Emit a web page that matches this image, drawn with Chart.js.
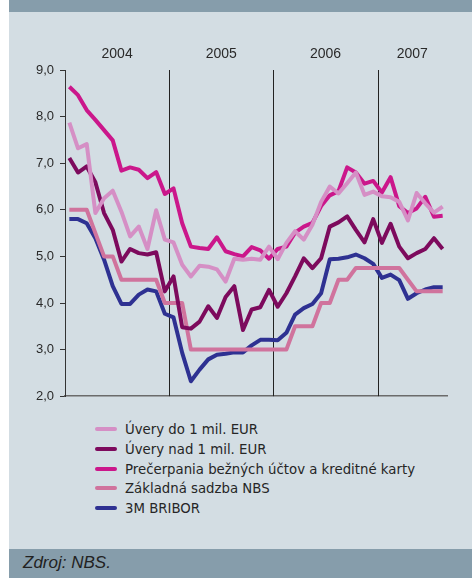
<!DOCTYPE html>
<html>
<head>
<meta charset="utf-8">
<script src="https://cdn.jsdelivr.net/npm/chart.js@4.4.1/dist/chart.umd.min.js"></script>
<style>
  body { margin: 0; width: 472px; height: 578px; background: #fff; font-family: "Liberation Sans", Arial, sans-serif; position: relative; overflow: hidden; }
  .bar { position: absolute; left: 9px; width: 463px; background: #869dab; }
  #head { top: 0; height: 12px; }
  #panel { position: absolute; left: 9px; top: 12px; width: 463px; height: 537px; background: #d3dde3; }
  #foot { top: 549px; height: 29px; }
  #foot span { position: absolute; left: 14px; top: 4px; font-style: italic; font-size: 17px; color: #222; }
  #wrap { position: absolute; left: 0; top: 0; width: 472px; height: 410px; }
  #legend { position: absolute; left: 95px; top: 420px; font-family: "DejaVu Sans", sans-serif; font-size: 13.3px; color: #262626; }
  #legend div { height: 19.8px; line-height: 19.8px; white-space: nowrap; }
  #legend i { display: inline-block; width: 22px; height: 4px; border-radius: 2px; vertical-align: middle; margin-right: 8px; position: relative; top: -1px; }
</style>
</head>
<body>
<div class="bar" id="head"></div>
<div id="panel"></div>
<div class="bar" id="foot"><span>Zdroj: NBS.</span></div>
<div id="wrap"><canvas id="chart" width="472" height="410"></canvas></div>
<div id="legend"></div>
<script>
// months Jan 2004 - Aug 2007
const years = ['2004', '2005', '2006', '2007'];
const monthsInYear = [12, 12, 12, 8];
const months = [];
years.forEach((y, k) => { for (let m = 1; m <= monthsInYear[k]; m++) months.push(m + '/' + y); });

const uveryDo = [7.87, 7.32, 7.41, 5.93, 6.25, 6.41, 5.96, 5.43, 5.64, 5.16, 5.99, 5.36,
                 5.30, 4.82, 4.57, 4.80, 4.78, 4.72, 4.46, 4.95, 4.93, 4.95, 4.93, 5.21,
                 4.94, 5.29, 5.54, 5.36, 5.68, 6.17, 6.50, 6.35, 6.57, 6.80, 6.32, 6.39,
                 6.29, 6.27, 6.17, 5.77, 6.36, 6.14, 5.94, 6.07];
const uveryNad = [7.11, 6.80, 6.93, 6.59, 5.93, 5.57, 4.89, 5.16, 5.07, 5.04, 5.09, 4.25,
                  4.57, 3.48, 3.45, 3.60, 3.93, 3.68, 4.13, 4.36, 3.42, 3.86, 3.91, 4.28,
                  3.92, 4.21, 4.57, 4.96, 4.75, 4.96, 5.64, 5.73, 5.86, 5.57, 5.30, 5.80,
                  5.29, 5.70, 5.21, 4.96, 5.07, 5.16, 5.39, 5.16];
const precerpania = [8.64, 8.46, 8.14, 7.93, 7.71, 7.49, 6.84, 6.91, 6.86, 6.68, 6.81, 6.34,
                     6.46, 5.71, 5.21, 5.18, 5.16, 5.41, 5.11, 5.05, 5.00, 5.20, 5.13, 4.95,
                     5.16, 5.21, 5.51, 5.64, 5.72, 6.08, 6.31, 6.40, 6.91, 6.80, 6.56, 6.62,
                     6.37, 6.70, 6.08, 5.93, 6.03, 6.28, 5.85, 5.87];
const zakladna = [6.0, 6.0, 6.0, 5.5, 5.0, 5.0, 4.5, 4.5, 4.5, 4.5, 4.5, 4.0,
                  4.0, 4.0, 3.0, 3.0, 3.0, 3.0, 3.0, 3.0, 3.0, 3.0, 3.0, 3.0,
                  3.0, 3.0, 3.5, 3.5, 3.5, 4.0, 4.0, 4.5, 4.5, 4.75, 4.75, 4.75,
                  4.75, 4.75, 4.75, 4.5, 4.25, 4.25, 4.25, 4.25];
const bribor = [5.80, 5.80, 5.71, 5.39, 4.93, 4.36, 3.98, 3.98, 4.18, 4.29, 4.25, 3.77,
                3.69, 2.93, 2.32, 2.57, 2.79, 2.89, 2.91, 2.94, 2.94, 3.09, 3.21, 3.21,
                3.20, 3.36, 3.75, 3.89, 3.98, 4.21, 4.94, 4.95, 4.98, 5.04, 4.96, 4.84,
                4.54, 4.61, 4.49, 4.09, 4.21, 4.29, 4.34, 4.34];

const yTicks = [2, 3, 4, 5, 6, 7, 8, 9];

const ds = (label, data, color) => ({ label, data, borderColor: color, backgroundColor: color, borderWidth: 4, pointRadius: 0, tension: 0, borderJoinStyle: 'round' });

// year separators + year labels above the plot
const yearsPlugin = {
  id: 'years',
  beforeDatasetsDraw(chart) {
    const { ctx, chartArea, scales: { x } } = chart;
    ctx.save();
    ctx.strokeStyle = '#222';
    ctx.lineWidth = 1;
    ctx.fillStyle = '#2a2a2a';
    ctx.font = '14px "Liberation Sans", Arial, sans-serif';
    ctx.textAlign = 'center';
    ctx.textBaseline = 'middle';
    let start = 0;
    years.forEach((y, k) => {
      const end = start + monthsInYear[k];
      const left = start === 0 ? chartArea.left : (x.getPixelForValue(start - 1) + x.getPixelForValue(start)) / 2;
      const right = end === months.length ? chartArea.right : (x.getPixelForValue(end - 1) + x.getPixelForValue(end)) / 2;
      if (start > 0) {
        const px = Math.round(left) + 0.5;
        ctx.beginPath(); ctx.moveTo(px, chartArea.top); ctx.lineTo(px, chartArea.bottom); ctx.stroke();
      }
      ctx.fillText(y, (left + right) / 2, 54);
      start = end;
    });
    ctx.restore();
  }
};

const chart = new Chart(document.getElementById('chart'), {
  type: 'line',
  data: {
    labels: months,
    datasets: [
      ds('Úvery do 1 mil. EUR', uveryDo, '#d58fc5'),
      ds('Úvery nad 1 mil. EUR', uveryNad, '#7d0a5d'),
      ds('Prečerpania bežných účtov a kreditné karty', precerpania, '#cb178b'),
      ds('Základná sadzba NBS', zakladna, '#d0739d'),
      ds('3M BRIBOR', bribor, '#2e3192')
    ]
  },
  options: {
    responsive: false,
    animation: false,
    devicePixelRatio: 1,
    layout: { padding: { left: 0, right: 25, top: 70, bottom: 4 } },
    plugins: { legend: { display: false }, tooltip: { enabled: false } },
    scales: {
      x: {
        offset: true,
        grid: { display: false },
        border: { display: true, color: '#6b6b6b', width: 1.5 },
        ticks: { display: false },
        afterFit(s) { s.height = 0; }
      },
      y: {
        min: 2, max: 9,
        afterBuildTicks(s) { s.ticks = yTicks.map(v => ({ value: v })); },
        afterFit(s) { s.width = 65; },
        grid: { drawOnChartArea: false, drawTicks: true, tickLength: 5, color: '#333' },
        border: { display: true, color: '#333', width: 1 },
        ticks: { color: '#2a2a2a', padding: 6, font: { size: 13, family: '"Liberation Sans", Arial, sans-serif' }, callback: v => v.toFixed(1).replace('.', ',') }
      }
    }
  },
  plugins: [yearsPlugin]
});

// legend as a vertical list, built from the chart's datasets
document.getElementById('legend').innerHTML = chart.data.datasets
  .map(d => `<div><i style="background:${d.borderColor}"></i>${d.label}</div>`).join('');
</script>
</body>
</html>
